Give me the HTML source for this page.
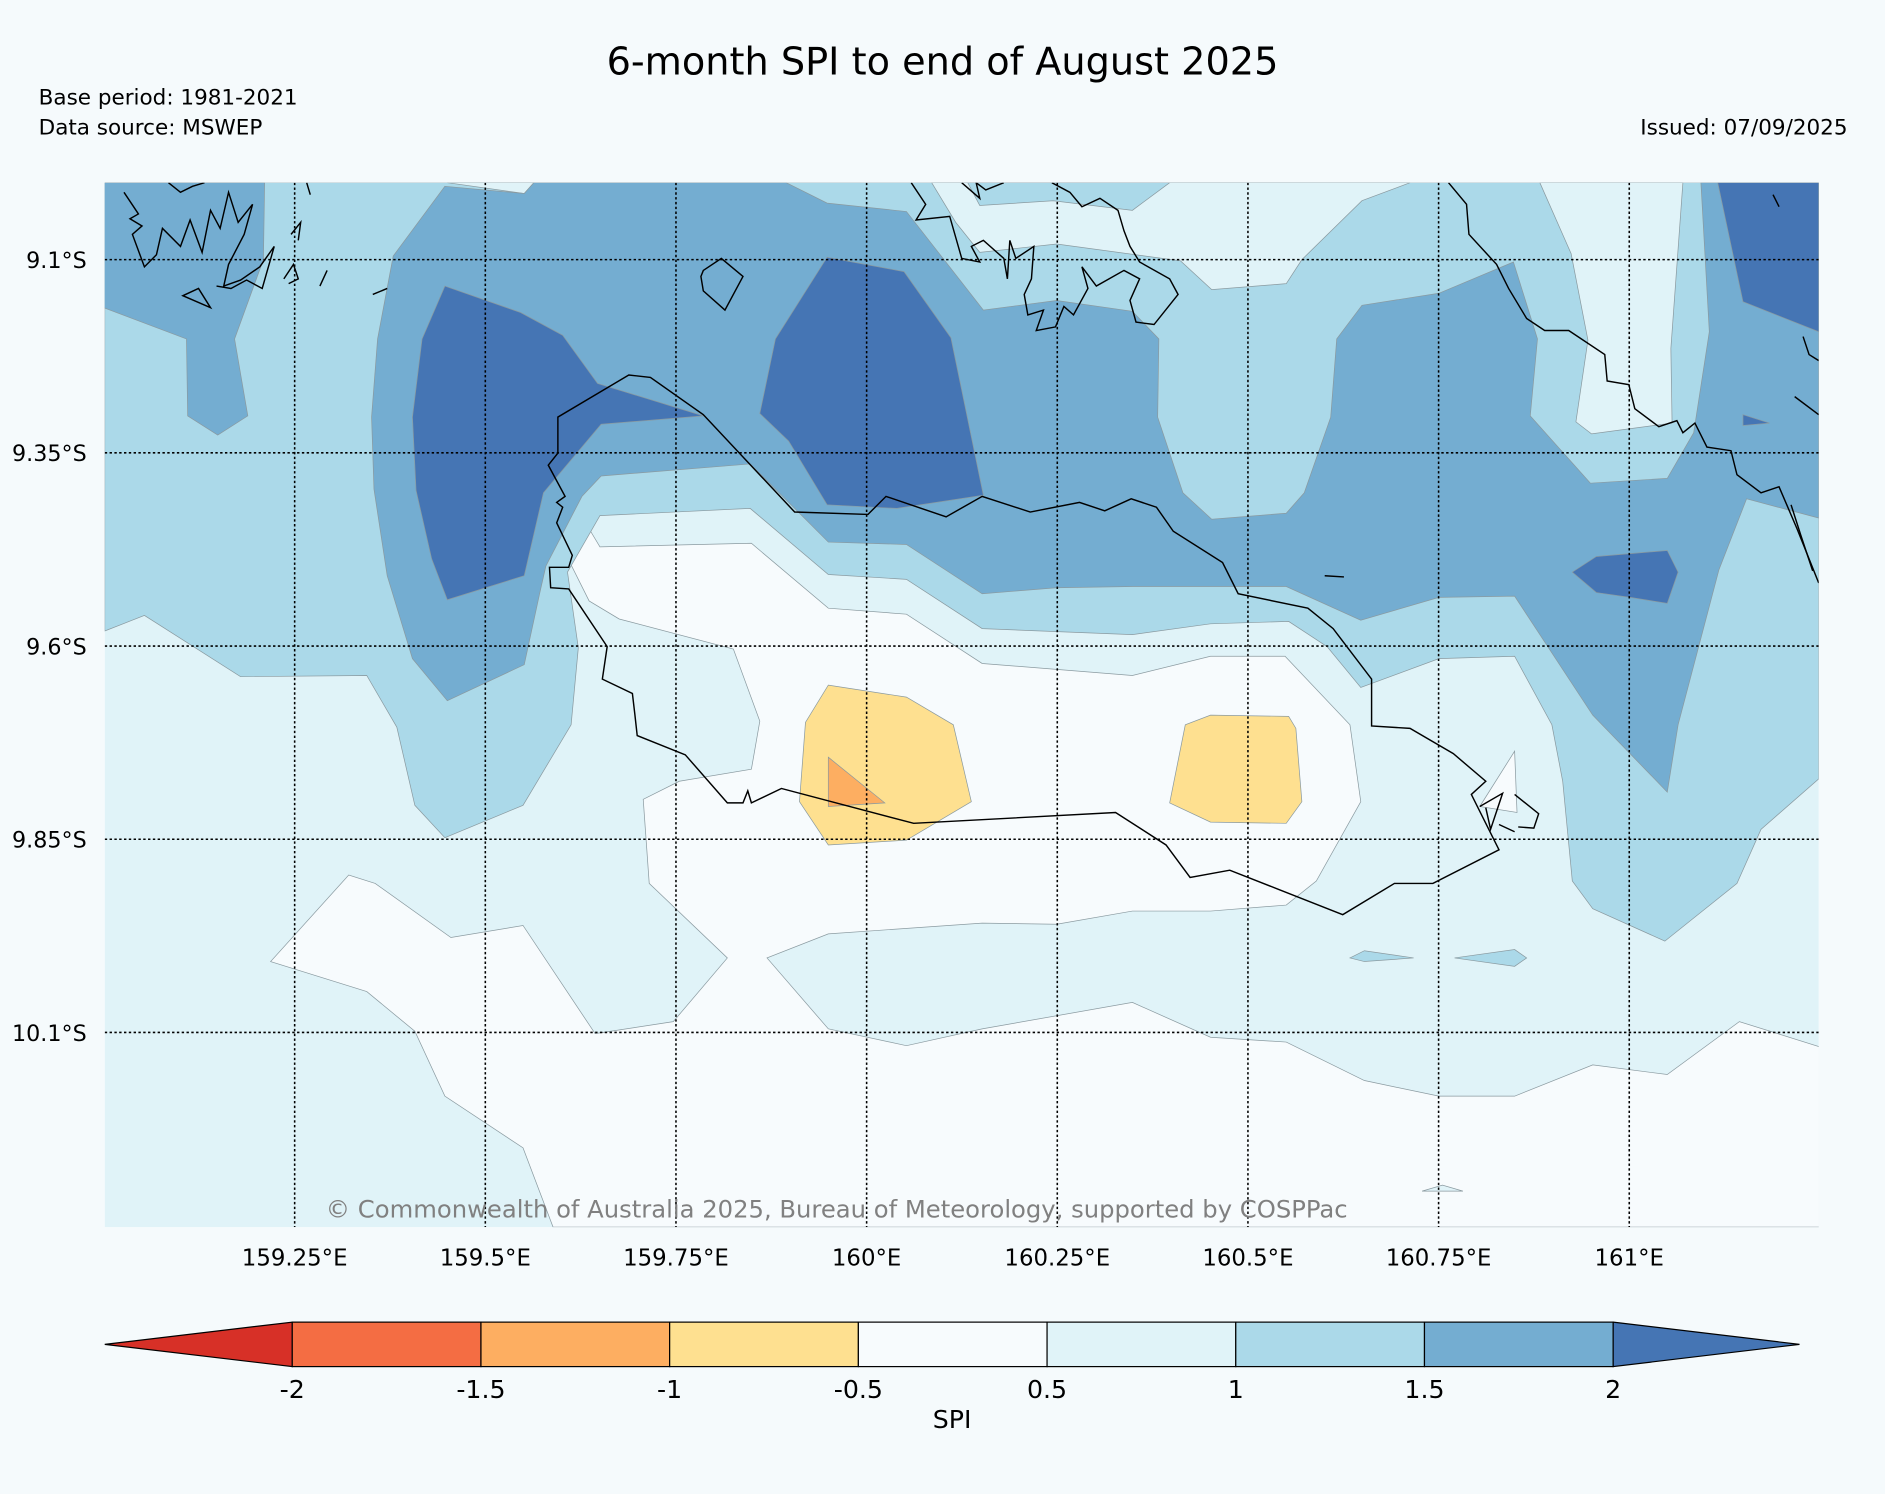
<!DOCTYPE html>
<html><head><meta charset="utf-8"><style>
html,body{margin:0;padding:0;background:#f5fafc;}
svg{display:block;font-family:"DejaVu Sans","Liberation Sans",sans-serif;}
</style></head><body>
<svg id="chart" xmlns="http://www.w3.org/2000/svg" width="1885" height="1494" viewBox="0 0 1568 1243">
<rect x="0" y="0" width="1568" height="1243" fill="#f5fafc"/>
<text x="784" y="62" font-size="31.8" text-anchor="middle" fill="#000">6-month SPI to end of August 2025</text>
<text x="32" y="87" font-size="17.9" fill="#000">Base period: 1981-2021</text>
<text x="32" y="112" font-size="17.9" fill="#000">Data source: MSWEP</text>
<text x="1537" y="112" font-size="17.9" text-anchor="end" fill="#000">Issued: 07/09/2025</text>

<defs><clipPath id="mapclip"><rect x="87" y="152" width="1426" height="869"/></clipPath></defs>
<g clip-path="url(#mapclip)" stroke="#8a9aa0" stroke-width="0.6">
<rect x="87" y="152" width="1426" height="869" fill="#e0f3f8" stroke="none"/>
<polygon fill="#f7fbfd" points="475,470 490,440 499,455 625,452 689,506 754,511 817,552 942,562 1007,546 1069,546 1123,603 1132,667 1095,733 1070,753 1007,758 942,758 879,769 817,768 689,777 638,797 689,856 754,870 817,856 942,834 1007,863 1070,867 1135,899 1197,912 1260,912 1325,886 1387,894 1447,850 1514,871 1514,1021 460,1021 435,955 370,912 345,858 305,825 225,800 290,728 312,735 375,780 435,770 495,860 560,850 605,797 540,735 535,665 565,650 625,640 632,600 610,540 515,515 490,500"/>
<polygon fill="#f7fbfd" points="805,152 815,171 876,167 942,175 973,152"/>
<polygon fill="#abd9e9" points="87,152 1513,152 1513,648 1465,690 1445,735 1385,783 1325,756 1308,733 1300,650 1291,603 1260,546 1197,548 1132,572 1104,538 1072,517 1007,519 942,528 817,523 754,482 689,478 624,423 499,429 472,476 481,539 475,603 435,670 370,697 345,670 330,605 305,562 200,563 120,512 87,525"/>
<polygon fill="#e0f3f8" points="775,152 795,185 815,210 879,203 982,217 1008,241 1070,236 1083,216 1133,167 1173,152 973,152 942,175 876,167 815,171 805,152"/>
<polygon fill="#e0f3f8" points="1281,152 1307,211 1321,283 1311,351 1324,361 1391,352 1390,290 1400,152"/>
<polygon fill="#e0f3f8" points="372,152 436,161 444,152"/>
<polygon fill="#74add1" points="86,152 220,152 219,216 195,282 206,346 181,362 156,346 155,282 86,256"/>
<polygon fill="#74add1" points="370,155 436,161 444,152 654,152 688,169 754,176 818,258 879,250 942,259 964,282 963,347 984,410 1008,432 1070,427 1085,410 1107,347 1112,282 1133,254 1197,244 1259,218 1279,282 1273,346 1323,402 1387,398 1409,360 1422,276 1415,152 1513,152 1513,431 1453,415 1430,474 1396,603 1387,659 1325,595 1260,496 1197,497 1132,516 1070,488 942,488 879,489 817,494 754,453 689,451 624,386 500,396 484,413 454,471 449,493 436,553 372,583 343,548 322,479 311,407 309,347 314,282 327,213"/>
<polygon fill="#4575b4" points="370,238 433,260 468,279 497,319 585,346 500,353 452,410 436,479 372,499 359,465 346,408 343,347 351,282"/>
<polygon fill="#4575b4" points="688,214 752,226 791,281 818,412 746,423 688,420 656,367 632,344 645,282"/>
<polygon fill="#4575b4" points="1429,152 1513,152 1513,276 1450,251"/>
<polygon fill="#4575b4" points="1308,476 1328,463 1387,458 1396,476 1387,502 1356,497 1328,493"/>
<polygon fill="#4575b4" points="1450,345 1472,352 1450,354"/>
<polygon fill="#abd9e9" points="1123,797 1135,791 1176,797 1135,800"/>
<polygon fill="#abd9e9" points="1210,797 1260,790 1270,797 1260,804"/>
<polygon fill="#e0f3f8" points="1183,991 1200,986 1217,991"/>
<polygon fill="#f7fbfd" points="1231,671 1260,625 1262,676"/>
<polygon fill="#fee090" points="689,570 754,580 793,603 808,667 754,699 689,703 665,667 670,601"/>
<polygon fill="#fdae61" points="689,630 736,668 689,671"/>
<polygon fill="#fee090" points="1007,595 1072,596 1078,606 1083,667 1070,685 1007,684 973,668 986,603"/>

<g fill="none" stroke="#000" stroke-width="1.2">
<polyline points="528,594 530,612 570,628 605,668 618,668 622,658 625,668 650,656 760,685 928,676 970,703 990,730 1023,724 1117,761 1160,735 1192,735 1247,707 1224,661 1236,650 1209,627 1173,606 1141,604 1141,565 1109,523 1088,506 1030,494 1017,468 976,442 962,422 941,415 919,425 898,418 857,426 817,413 787,430 737,413 722,428 661,426 585,345 541,314 523,312 464,347 464,377 456,387 470,413 463,418 468,422 463,435 476,462 473,472 457,472 458,489 473,490 505,538 501,565 526,577 528,594"/>
<polyline points="1205,152 1220,170 1222,195 1245,220 1255,240 1270,265 1285,275 1305,275 1335,295 1337,317 1355,320 1360,340 1380,355 1395,350 1400,360 1410,352 1420,372 1440,375 1445,395 1465,410 1480,405 1495,440 1513,485"/>
<polyline points="1231,671 1250,660 1240,690 1236,672"/>
<polyline points="1260,661 1280,677 1276,689 1263,688"/>
<polyline points="1247,686 1260,692"/>
<polygon points="585,225 600,215 618,230 603,258 585,242 583,230"/>
<polyline points="103,160 115,178 108,182 118,188 110,195 120,222 130,212 135,190 150,205 158,183 168,210 175,175 183,190 190,160 198,185 210,170 203,195 190,220 186,238 200,233 216,222 228,205 218,240 205,233 192,240 180,238"/>
<polyline points="140,152 150,160 160,155 170,152"/>
<polygon points="152,246 165,240 175,256"/>
<polyline points="236,232 244,220 248,232 240,236"/>
<polyline points="266,238 272,225"/>
<polyline points="242,195 250,185 248,200"/>
<polyline points="310,245 322,240"/>
<polyline points="255,152 258,162"/>
<polyline points="758,152 770,170 762,183 790,180 800,215 815,218 808,205 818,200 835,215 838,232 840,200 845,215 860,205 858,232 852,245 855,262 868,258 862,275 878,272 885,255 893,262 905,240 900,222 912,238 935,225 948,232 940,250 945,268 960,270 980,245 973,232 948,218 940,205 935,192 930,175 915,165 900,172 890,160 875,152"/>
<polyline points="800,152 815,165 812,152 820,158 835,152"/>
<polyline points="1102,479 1118,480"/>
<polyline points="1493,330 1513,345"/>
<polyline points="1490,420 1498,445 1503,460 1508,475"/>
<polyline points="1500,280 1505,295 1513,300"/>
<polyline points="1475,162 1480,172"/>
</g>
<g id="grid" stroke="#000" stroke-width="1.3" stroke-dasharray="2,2" fill="none"></g>
</g>

<text x="696" y="1013" font-size="20.2" text-anchor="middle" fill="#808080">© Commonwealth of Australia 2025, Bureau of Meteorology, supported by COSPPac</text>
<g id="axislabels"></g>
<g id="cbar"></g>
<text x="792" y="1188" font-size="21" text-anchor="middle" fill="#000">SPI</text>

<script>
const lonTicks = [159.25, 159.5, 159.75, 160, 160.25, 160.5, 160.75, 161];
const lonLabels = ["159.25°E","159.5°E","159.75°E","160°E","160.25°E","160.5°E","160.75°E","161°E"];
const latTicks = [9.1, 9.35, 9.6, 9.85, 10.1];
const latLabels = ["9.1°S","9.35°S","9.6°S","9.85°S","10.1°S"];
const cbarLevels = [-2, -1.5, -1, -0.5, 0.5, 1, 1.5, 2];
const cbarLabels = ["-2","-1.5","-1","-0.5","0.5","1","1.5","2"];
const cbarColors = ["#f46d43","#fdae61","#fee090","#f7fbfd","#e0f3f8","#abd9e9","#74add1"];
const cbarUnder = "#d73027";
const cbarOver = "#4575b4";

const NS = "http://www.w3.org/2000/svg";
function xScale(lon){ return 245 + (lon - 159.25) * 634.5; }
function yScale(lat){ return 216 + (lat - 9.1) * 643; }
function cbarX(i){ return 243 + i * 157; }

const gridG = document.getElementById('grid');
const labsG = document.getElementById('axislabels');
lonTicks.forEach((lon, i) => {
  const x = xScale(lon);
  const l = document.createElementNS(NS, 'line');
  l.setAttribute('x1', x); l.setAttribute('x2', x); l.setAttribute('y1', 152); l.setAttribute('y2', 1021);
  
  
  gridG.appendChild(l);
  const t = document.createElementNS(NS, 'text');
  t.setAttribute('x', x); t.setAttribute('y', 1053); t.setAttribute('font-size', '19'); t.setAttribute('text-anchor', 'middle');
  t.textContent = lonLabels[i];
  
  
  labsG.appendChild(t);
});
latTicks.forEach((lat, i) => {
  const y = yScale(lat);
  const l = document.createElementNS(NS, 'line');
  l.setAttribute('x1', 87); l.setAttribute('x2', 1513); l.setAttribute('y1', y); l.setAttribute('y2', y);
  
  
  gridG.appendChild(l);
  const t = document.createElementNS(NS, 'text');
  t.setAttribute('x', 72); t.setAttribute('y', y + 7); t.setAttribute('font-size', '18.5'); t.setAttribute('text-anchor', 'end');
  t.textContent = latLabels[i];
  
  
  labsG.appendChild(t);
});

const cbarG = document.getElementById('cbar');
const cbTop = 1100, cbBot = 1137, cbMid = 1118.5;
const underArrow = document.createElementNS(NS, 'polygon');
underArrow.setAttribute('points', `87,${cbMid} ${cbarX(0)},${cbTop} ${cbarX(0)},${cbBot}`);
underArrow.setAttribute('fill', cbarUnder); underArrow.setAttribute('stroke', '#000'); underArrow.setAttribute('stroke-width', '1');


cbarG.appendChild(underArrow);
cbarColors.forEach((c, i) => {
  const r = document.createElementNS(NS, 'rect');
  r.setAttribute('x', cbarX(i)); r.setAttribute('y', cbTop); r.setAttribute('width', 157); r.setAttribute('height', cbBot - cbTop);
  r.setAttribute('fill', c); r.setAttribute('stroke', '#000'); r.setAttribute('stroke-width', '1');
  
  
  cbarG.appendChild(r);
});
const overArrow = document.createElementNS(NS, 'polygon');
const xEnd = cbarX(cbarColors.length);
overArrow.setAttribute('points', `${xEnd},${cbTop} 1497,${cbMid} ${xEnd},${cbBot}`);
overArrow.setAttribute('fill', cbarOver); overArrow.setAttribute('stroke', '#000'); overArrow.setAttribute('stroke-width', '1');


cbarG.appendChild(overArrow);
cbarLevels.forEach((v, i) => {
  const t = document.createElementNS(NS, 'text');
  t.setAttribute('x', cbarX(i)); t.setAttribute('y', 1163); t.setAttribute('font-size', '21'); t.setAttribute('text-anchor', 'middle');
  t.textContent = cbarLabels[i];
  
  
  cbarG.appendChild(t);
});
</script>
</svg>
</body></html>
